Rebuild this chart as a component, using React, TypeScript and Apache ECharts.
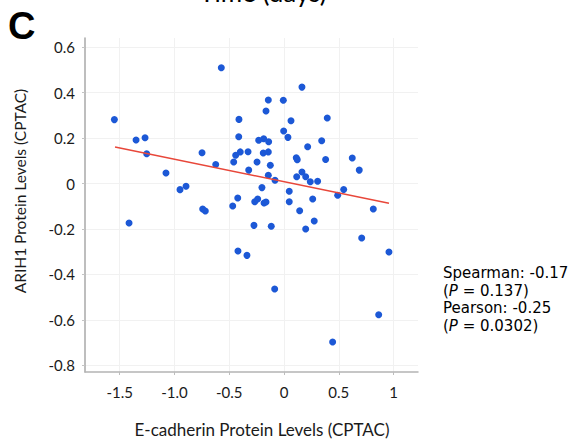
import React, { useEffect, useRef } from "react";
import * as echarts from "echarts";

const eCadherin = [
  -1.548, -0.572, 0.164, -0.143, -0.006, -0.164, -0.411, 0.064, 0.395, -0.003,
  -1.35, -1.268, -0.413, 0.036, -0.231, -0.185, -0.14, 0.344, 0.216, -1.253,
  -0.748, -0.399, -0.328, -0.189, -0.143, -0.441, -0.623, -0.459, -0.246, -0.125,
  0.112, 0.121, 0.38, 0.623, -0.322, 0.687, -1.077, 0.164, -0.143, 0.116,
  0.198, -0.082, 0.24, 0.307, -0.949, -0.894, -0.201, 0.048, 0.49, 0.545,
  -1.414, -0.742, -0.718, -0.468, -0.422, -0.267, -0.24, -0.182, -0.164, 0.048,
  0.143, 0.262, 0.276, 0.198, -0.116, -0.274, -0.42, -0.338, -0.085, 0.815,
  0.709, 0.958, 0.864, 0.444,
];
const arih1 = [
  0.281, 0.509, 0.424, 0.367, 0.366, 0.319, 0.282, 0.276, 0.288, 0.231,
  0.191, 0.201, 0.206, 0.203, 0.19, 0.197, 0.184, 0.188, 0.162, 0.131,
  0.135, 0.139, 0.14, 0.134, 0.139, 0.124, 0.084, 0.095, 0.095, 0.08,
  0.113, 0.105, 0.106, 0.112, 0.059, 0.059, 0.046, 0.051, 0.036, 0.03,
  0.03, 0.014, 0.008, 0.01, -0.027, -0.012, -0.018, -0.034, -0.052, -0.026,
  -0.174, -0.112, -0.121, -0.099, -0.064, -0.08, -0.068, -0.086, -0.081, -0.08,
  -0.12, -0.068, -0.165, -0.2, -0.188, -0.184, -0.297, -0.316, -0.464, -0.112,
  -0.24, -0.301, -0.577, -0.697,
];
const fitX = [-1.542, 0.958];
const fitY = [0.161, -0.087];

const xTicks = [-1.5, -1, -0.5, 0, 0.5, 1];
const xTickLabels = ["-1.5", "-1.0", "-0.5", "0", "0.5", "1"];
const yTicks = [0.6, 0.4, 0.2, 0, -0.2, -0.4, -0.6, -0.8];
const yTickLabels = ["0.6", "0.4", "0.2", "0", "-0.2", "-0.4", "-0.6", "-0.8"];

const statLines = ["Spearman: -0.17", "{i|P} = 0.137", "Pearson: -0.25", "{i|P} = 0.0302"];
const statWrap = [false, true, false, true];

const FONT = "Lato, 'Open Sans', sans-serif";
const STAT_FONT = "'DejaVu Sans', sans-serif";

function lookup(ticks: number[], labels: string[], v: number) {
  for (let i = 0; i < ticks.length; i++) {
    if (Math.abs(ticks[i] - v) < 1e-6) return labels[i];
  }
  return "";
}

export default function App() {
  const ref = useRef<HTMLDivElement>(null);
  useEffect(() => {
    if (!ref.current) return;
    const chart = echarts.init(ref.current, null, { renderer: "svg" });
    const scatterData = eCadherin.map((x, i) => [x, arih1[i]]);
    const fitData = fitX.map((x, i) => [x, fitY[i]]);
    const statGraphics = statLines.map((t, i) => ({
      type: "text",
      x: 443,
      y: 273 + i * 17.7,
      style: {
        text: statWrap[i] ? "(" + t + ")" : t,
        font: "15px " + STAT_FONT,
        fill: "#000",
        verticalAlign: "middle",
        align: "left",
        rich: {
          i: { fontStyle: "italic", fontSize: 15, fontFamily: STAT_FONT },
        },
      },
    }));
    chart.setOption({
      animation: false,
      backgroundColor: "#ffffff",
      grid: { left: 85, right: 169, top: 38, bottom: 73 },
      xAxis: {
        type: "value",
        min: -1.816,
        max: 1.223,
        axisLine: { show: true, onZero: false, lineStyle: { color: "#b4b4b4", width: 1.5 } },
        axisTick: {
          show: true,
          customValues: xTicks,
          length: 3,
          lineStyle: { color: "#bdbdbd" },
        },
        axisLabel: {
          customValues: xTicks,
          formatter: (v: number) => lookup(xTicks, xTickLabels, v),
          color: "#1a1a1a",
          fontSize: 15,
          fontFamily: FONT,
          margin: 12,
        },
        splitLine: { show: true, lineStyle: { color: "#f1f1f1", width: 1 } },
      },
      yAxis: {
        type: "value",
        min: -0.829,
        max: 0.64,
        axisLine: { show: true, onZero: false, lineStyle: { color: "#a8a8a8", width: 1.5 } },
        axisTick: {
          show: true,
          customValues: yTicks,
          length: 3,
          lineStyle: { color: "#c4c4c4" },
        },
        axisLabel: {
          customValues: yTicks,
          formatter: (v: number) => lookup(yTicks, yTickLabels, v),
          color: "#1a1a1a",
          fontSize: 15,
          fontFamily: FONT,
          margin: 10,
        },
        splitLine: { show: true, lineStyle: { color: "#f1f1f1", width: 1 } },
      },
      series: [
        {
          type: "scatter",
          data: scatterData,
          symbolSize: 7,
          itemStyle: { color: "#1c58d6", opacity: 1 },
          z: 2,
        },
        {
          type: "line",
          data: fitData,
          symbol: "none",
          lineStyle: { color: "#e8473a", width: 1.5 },
          z: 3,
        },
      ],
      graphic: [
        {
          type: "text",
          x: 8,
          y: 25.5,
          style: {
            text: "C",
            font: "bold 38px 'Liberation Sans', Arial, sans-serif",
            fill: "#000",
            verticalAlign: "middle",
            align: "left",
          },
        },
        {
          type: "text",
          x: 263,
          y: -8.5,
          style: {
            text: "Time (days)",
            font: "26px " + FONT,
            fill: "#000",
            verticalAlign: "middle",
            align: "center",
          },
        },
        {
          type: "text",
          x: 262,
          y: 429,
          style: {
            text: "E-cadherin Protein Levels (CPTAC)",
            font: "17px " + FONT,
            fill: "#1a1a1a",
            verticalAlign: "middle",
            align: "center",
          },
        },
        {
          type: "text",
          x: 20,
          y: 191,
          rotation: Math.PI / 2,
          style: {
            text: "ARIH1 Protein Levels (CPTAC)",
            font: "15.5px " + FONT,
            fill: "#1a1a1a",
            verticalAlign: "middle",
            align: "center",
          },
        },
        ...statGraphics,
      ],
    });
    return () => chart.dispose();
  }, []);
  return (
    <div
      ref={ref}
      style={{ position: "absolute", left: 0, top: 0, width: 587, height: 445 }}
    />
  );
}
